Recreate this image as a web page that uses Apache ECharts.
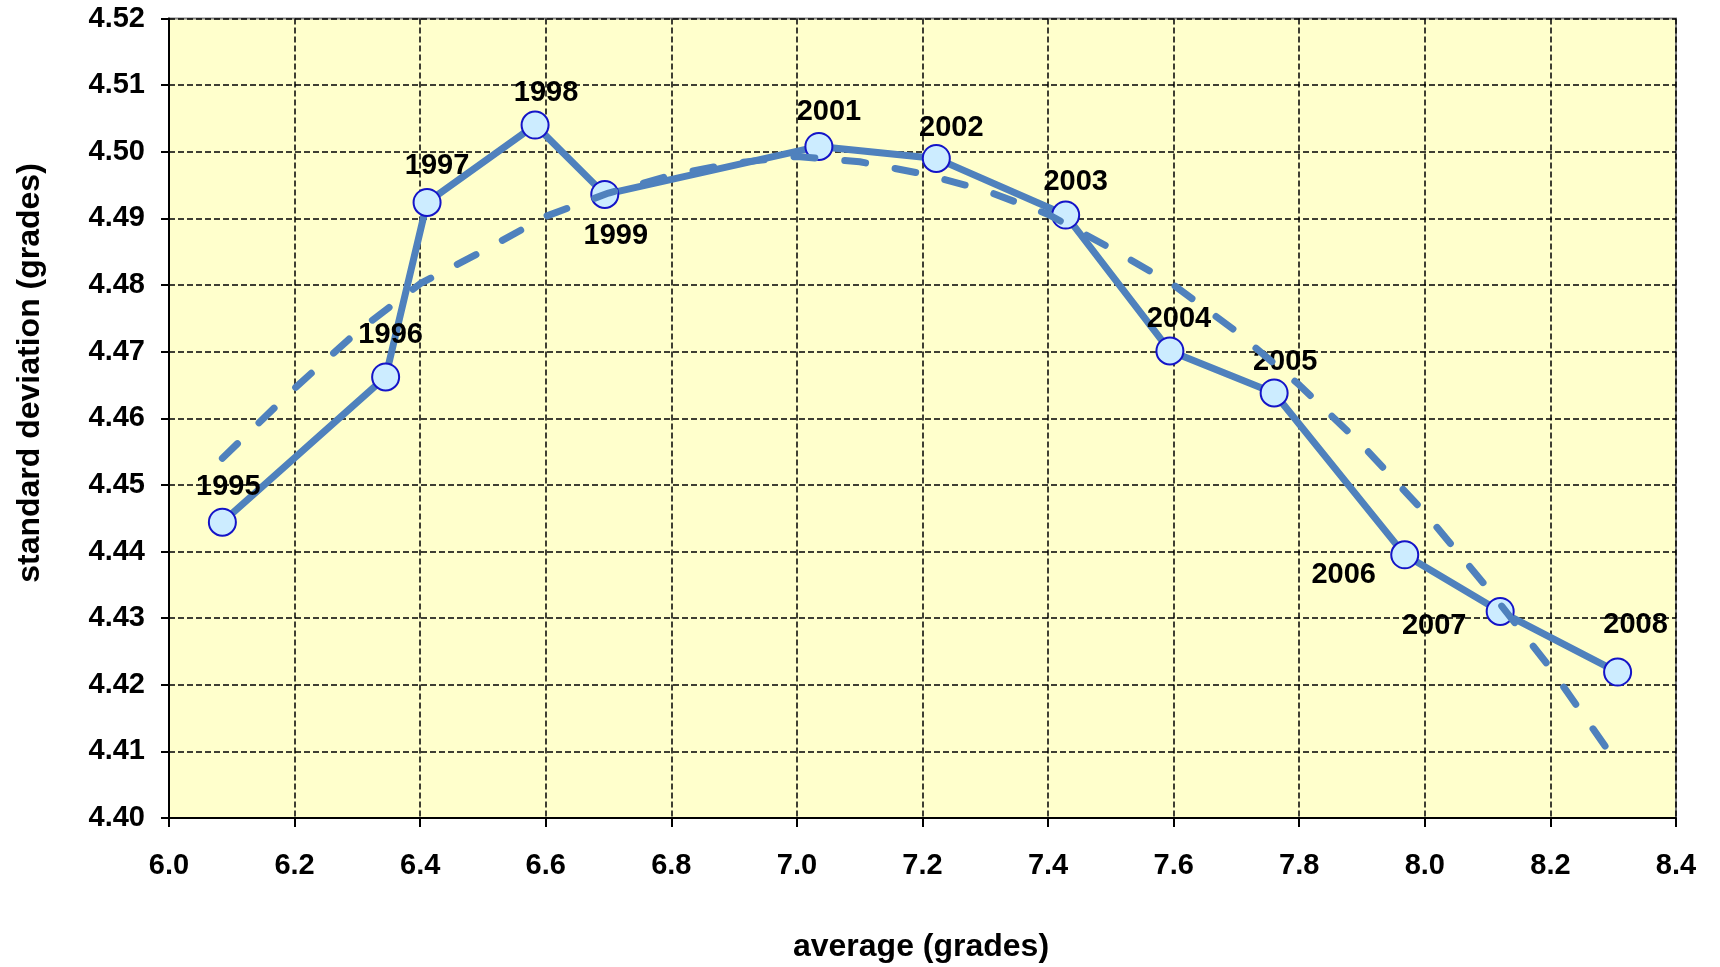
<!DOCTYPE html>
<html>
<head>
<meta charset="utf-8">
<script src="https://cdn.jsdelivr.net/npm/echarts@6/dist/echarts.min.js"></script>
<style>
html,body{margin:0;padding:0;background:#fff;}
#chart{width:1720px;height:967px;}
</style>
</head>
<body>
<div id="chart"></div>
<script>
// ---- data ----
var years = ['1995','1996','1997','1998','1999','2001','2002','2003','2004','2005','2006','2007','2008'];
var avgGrades = [6.085, 6.345, 6.411, 6.583, 6.694, 7.035, 7.222, 7.428, 7.594, 7.760, 7.968, 8.120, 8.307];
var stdDev = [4.4444, 4.4662, 4.4924, 4.5040, 4.4936, 4.5008, 4.4990, 4.4905, 4.4701, 4.4638, 4.4395, 4.4310, 4.4219];
var trendX = [6.085, 6.2, 6.3, 6.4, 6.5, 6.6, 6.7, 6.8, 6.9, 7.0, 7.1, 7.2, 7.3, 7.4, 7.5, 7.6, 7.7, 7.8, 7.9, 8.0, 8.1, 8.2, 8.293];
var trendY = [4.4540, 4.4645, 4.4730, 4.4802, 4.4851, 4.4903, 4.4938, 4.4965, 4.4983, 4.4993, 4.4985, 4.4967, 4.4942, 4.4906, 4.4855, 4.4800, 4.4730, 4.4650, 4.4560, 4.4458, 4.4345, 4.4225, 4.4100];
var xTicks = {min: 6.0, max: 8.4, interval: 0.2};
var yTicks = {min: 4.40, max: 4.52, interval: 0.01};

// label placement (style only)
var labelOffsets = [[6,-35],[5,-42],[10,-36],[11,-32],[11,42],[10,-34],[15,-30],[10,-33],[9,-32],[11,-31],[-61,20],[-66,15],[18,-47]];

var FONT = '"Liberation Sans", Arial, sans-serif';
var mainData = avgGrades.map(function(x, i){
  return {
    value: [x, stdDev[i]],
    label: {show: true, position: 'inside', offset: labelOffsets[i], formatter: years[i]}
  };
});
var trendData = trendX.map(function(x, i){ return [x, trendY[i]]; });

var chart = echarts.init(document.getElementById('chart'));
chart.setOption({
  animation: false,
  backgroundColor: '#ffffff',
  grid: {left: 169, right: 44, top: 18.5, bottom: 149, show: true, backgroundColor: '#FFFFCC', borderColor: '#808080', borderWidth: 2},
  xAxis: {
    type: 'value', min: xTicks.min, max: xTicks.max, interval: xTicks.interval,
    axisLine: {show: true, onZero: false, lineStyle: {color: '#000', width: 2}},
    axisTick: {show: true, inside: false, length: 9, lineStyle: {color: '#000', width: 2}},
    axisLabel: {color: '#000', fontFamily: FONT, fontWeight: 'bold', fontSize: 29, margin: 33,
      formatter: function(v){ return v.toFixed(1); }},
    splitLine: {show: true, lineStyle: {color: '#000', width: 1.5, type: [6,3]}}
  },
  yAxis: {
    type: 'value', min: yTicks.min, max: yTicks.max, interval: yTicks.interval,
    axisLine: {show: true, onZero: false, lineStyle: {color: '#000', width: 2}},
    axisTick: {show: true, inside: false, length: 8, lineStyle: {color: '#000', width: 2}},
    axisLabel: {color: '#000', fontFamily: FONT, fontWeight: 'bold', fontSize: 29, margin: 24,
      formatter: function(v){ return v.toFixed(2); }},
    splitLine: {show: true, lineStyle: {color: '#000', width: 1.5, type: [6,3]}}
  },
  series: [
    {
      type: 'line', data: mainData, z: 3,
      lineStyle: {color: '#4F81BD', width: 7},
      symbol: 'circle', symbolSize: 27,
      itemStyle: {color: '#CCECFF', borderColor: '#1414C8', borderWidth: 2},
      label: {color: '#000', fontFamily: FONT, fontWeight: 'bold', fontSize: 29}
    },
    {
      type: 'line', data: trendData, z: 4, symbol: 'none', silent: true,
      lineStyle: {color: '#4F81BD', width: 7, type: [21, 30], cap: 'round', join: 'round'}
    }
  ],
  graphic: [
    {type: 'text', x: 921, y: 947, style: {text: 'average (grades)', textAlign: 'center', textVerticalAlign: 'middle', font: 'bold 32px ' + FONT, fill: '#000'}},
    {type: 'text', x: 30, y: 373, rotation: Math.PI/2, style: {text: 'standard deviation (grades)', textAlign: 'center', textVerticalAlign: 'middle', font: 'bold 32px ' + FONT, fill: '#000'}}
  ]
});
</script>
</body>
</html>
